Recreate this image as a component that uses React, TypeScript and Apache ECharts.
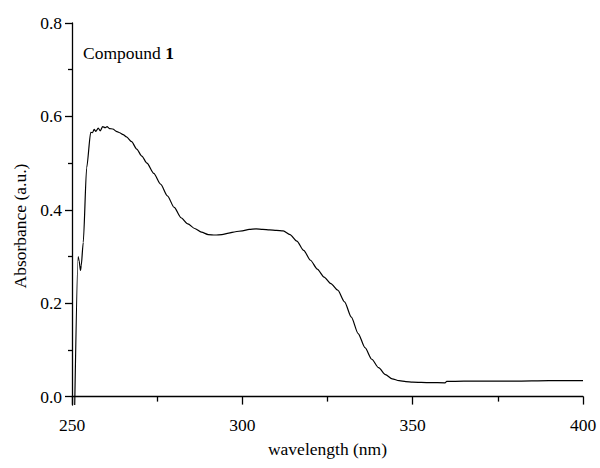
import React, { useEffect, useRef } from "react";
import * as echarts from "echarts";

// UV-Vis absorption spectrum of compound 1
const wavelengths: number[] = [
  250.8, 251.8, 252.1, 252.5, 252.7, 253.3, 254.3, 255.5, 256.0, 256.5,
  257.0, 257.7, 258.3, 259.0, 259.7, 260.3, 261.0, 262.0, 263.0, 264.0,
  265.0, 266.0, 267.5, 269.0, 270.5, 272.0, 274.0, 276.0, 278.0, 280.0,
  282.0, 284.0, 286.0, 288.0, 290.0, 292.0, 294.0, 296.0, 298.0, 300.0,
  302.0, 304.0, 306.0, 308.0, 310.0, 312.0, 314.0, 316.0, 318.0, 320.0,
  322.0, 324.0, 326.0, 328.0, 330.0, 332.0, 334.0, 336.0, 338.0, 340.0,
  342.0, 344.0, 346.0, 348.0, 350.0, 355.0, 359.5, 360.0, 365.0, 370.0,
  380.0, 390.0, 400.0,
];

const absorbance: number[] = [
  -0.018, 0.3, 0.29, 0.27, 0.28, 0.33, 0.49, 0.566, 0.565, 0.572,
  0.568, 0.575, 0.569, 0.578, 0.576, 0.578, 0.574, 0.573, 0.568, 0.565,
  0.561, 0.556, 0.546, 0.53, 0.515, 0.5, 0.478, 0.455, 0.43, 0.405,
  0.383, 0.37, 0.36, 0.352, 0.347, 0.346, 0.347, 0.35, 0.353, 0.355,
  0.358, 0.359, 0.358, 0.357, 0.356, 0.355, 0.347, 0.333, 0.313, 0.292,
  0.273, 0.256, 0.242, 0.228, 0.203, 0.17, 0.135, 0.105, 0.08, 0.062,
  0.047, 0.038, 0.034, 0.032, 0.031, 0.03, 0.0295, 0.0325, 0.033, 0.033,
  0.033, 0.034, 0.034,
];

const yMajorTicks: number[] = [0, 0.2, 0.4, 0.6, 0.8];
const yMinorTicks: number[] = [0.1, 0.3, 0.5, 0.7];

const FONT = "Liberation Serif";
const FS = 17.5;

export default function App() {
  const ref = useRef<HTMLDivElement>(null);

  useEffect(() => {
    if (!ref.current) return;
    const chart = echarts.init(ref.current, undefined, { renderer: "svg" });

    const points = wavelengths.map((w, i) => [w, absorbance[i]]);
    const axisLine = { lineStyle: { color: "#000", width: 1.3 } };
    const tickStyle = { color: "#000", width: 1.3 };

    chart.setOption({
      animation: false,
      backgroundColor: "#fff",
      textStyle: { fontFamily: FONT },
      grid: { left: 72, right: 17, top: 23, bottom: 63 },
      xAxis: {
        type: "value",
        min: 250,
        max: 400,
        interval: 50,
        name: "wavelength (nm)",
        nameLocation: "middle",
        nameGap: 35,
        nameTextStyle: { fontFamily: FONT, fontSize: FS, color: "#000" },
        axisLine,
        axisTick: { show: true, inside: false, length: 8, lineStyle: tickStyle },
        minorTick: { show: true, splitNumber: 2, length: 5, lineStyle: tickStyle },
        axisLabel: { fontFamily: FONT, fontSize: FS, color: "#000", margin: 11 },
        splitLine: { show: false },
      },
      yAxis: [
        {
          type: "value",
          min: -0.018,
          max: 0.8,
          axisLine,
          axisTick: {
            show: true,
            inside: false,
            length: 7,
            customValues: yMajorTicks,
            lineStyle: tickStyle,
          },
          axisLabel: {
            fontFamily: FONT,
            fontSize: FS,
            color: "#000",
            margin: 10,
            customValues: yMajorTicks,
            formatter: (v: number) => v.toFixed(1),
          },
          splitLine: { show: false },
        },
        {
          type: "value",
          min: -0.018,
          max: 0.8,
          position: "left",
          axisLine: { show: false },
          axisTick: {
            show: true,
            inside: false,
            length: 4,
            customValues: yMinorTicks,
            lineStyle: tickStyle,
          },
          axisLabel: { show: false },
          splitLine: { show: false },
        },
      ],
      graphic: [
        {
          type: "text",
          x: 20,
          y: 226,
          rotation: Math.PI / 2,
          style: {
            text: "Absorbance (a.u.)",
            fontFamily: FONT,
            fontSize: FS,
            fill: "#000",
            align: "center",
            verticalAlign: "middle",
          },
        },
        {
          type: "text",
          left: 83,
          top: 44,
          style: {
            text: "{a|Compound }{b|1}",
            rich: {
              a: { fontFamily: FONT, fontSize: FS, fill: "#000", fontWeight: "normal" },
              b: { fontFamily: FONT, fontSize: FS, fill: "#000", fontWeight: "bold" },
            },
          },
        },
      ],
      series: [
        {
          type: "line",
          data: points,
          showSymbol: false,
          clip: true,
          smooth: 0.25,
          smoothMonotone: "x",
          lineStyle: { color: "#000", width: 1.2 },
        },
      ],
    });

    return () => chart.dispose();
  }, []);

  return (
    <div
      ref={ref}
      style={{ position: "fixed", left: 0, top: 0, width: 600, height: 468 }}
    />
  );
}
